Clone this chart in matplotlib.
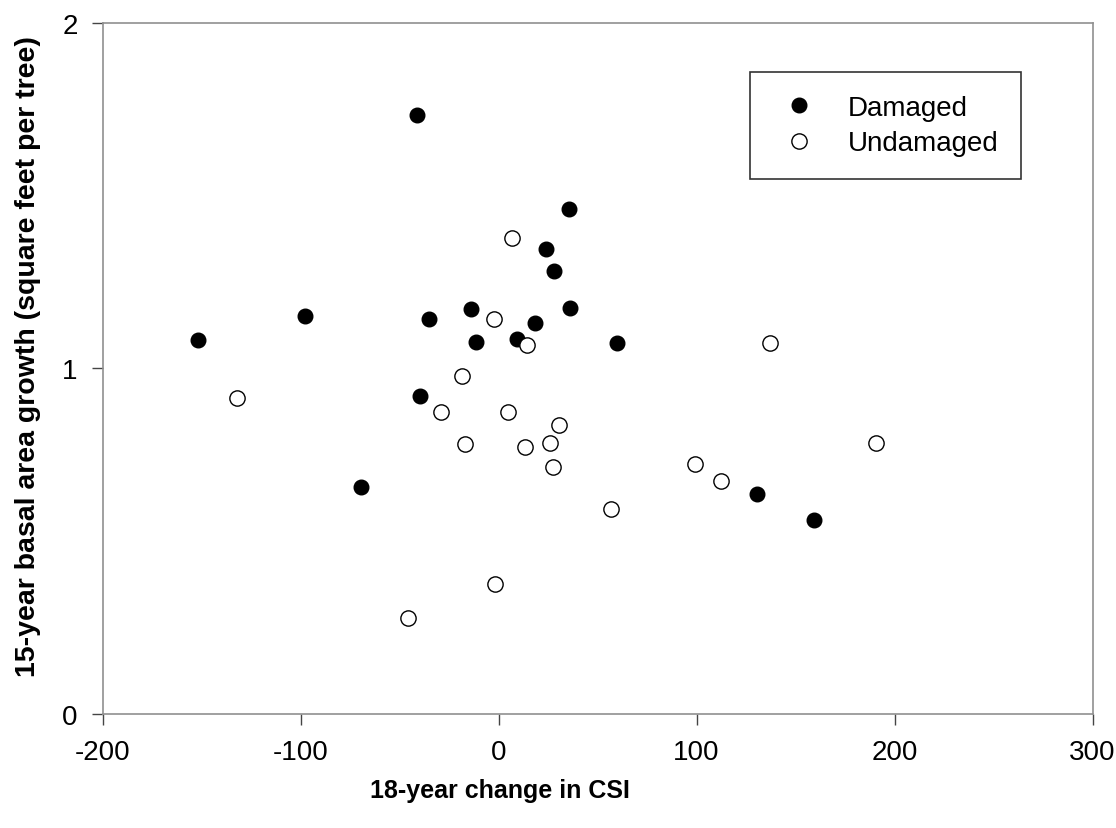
import matplotlib.pyplot as plt

plt.rcParams['font.family'] = ['Liberation Sans', 'DejaVu Sans']
plt.rcParams['axes.unicode_minus'] = False

# damaged trees
dam_x = [-152, -97.7, -69.3, -41.1, -39.5, -35.3, -13.9, -11.6, 9.2, 18.5,
         23.9, 28.1, 35.6, 36.2, 59.7, 130.4, 159.4]
dam_y = [1.083, 1.152, 0.657, 1.733, 0.919, 1.142, 1.172, 1.077, 1.084, 1.130,
         1.345, 1.282, 1.461, 1.175, 1.072, 0.637, 0.560]

# undamaged trees
und_x = [-131.9, -46.0, -29.1, -18.3, -16.8, -2.2, -1.6, 4.7, 6.7, 13.2,
         14.5, 25.9, 27.7, 30.6, 56.6, 99.1, 112.1, 137.1, 190.4]
und_y = [0.914, 0.278, 0.874, 0.979, 0.781, 1.142, 0.375, 0.874, 1.377, 0.771,
         1.068, 0.784, 0.714, 0.835, 0.594, 0.724, 0.674, 1.072, 0.784]

xticks = [-200, -100, 0, 100, 200, 300]
yticks = [0, 1, 2]

fig = plt.figure(figsize=(11.16, 8.29), dpi=100)
ax = fig.add_axes([0.092, 0.1375, 0.887, 0.834])

ax.plot(dam_x, dam_y, 'o', color='black', markersize=10.5, label='Damaged')
ax.plot(und_x, und_y, 'o', markerfacecolor='white', markeredgecolor='black',
        markeredgewidth=1.0, markersize=11, label='Undamaged')

ax.set_xlim(-200, 300)
ax.set_ylim(0, 2)
ax.set_xticks(xticks)
ax.set_yticks(yticks)
ax.tick_params(direction='out', length=8, width=1, color='#444444',
               labelsize=20, pad=10)
for s in ax.spines.values():
    s.set_color('#909090')
    s.set_linewidth(1.2)

ax.set_xlabel('18-year change in CSI', fontsize=18, fontweight='bold')
ax.xaxis.set_label_coords(0.401, -0.093)
ax.set_ylabel('15-year basal area growth (square feet per tree)', fontsize=20.5,
              fontweight='bold')
ax.yaxis.set_label_coords(-0.062, 0.518)

leg = ax.legend(loc='upper left', bbox_to_anchor=(0.672, 0.912),
                bbox_transform=fig.transFigure, fontsize=20, frameon=True,
                fancybox=False, edgecolor='black', handletextpad=0.82,
                borderpad=0.82, labelspacing=0.35, borderaxespad=0,
                handlelength=1.88, markerscale=1.0)
leg.get_frame().set_linewidth(1.2)

fig.savefig('out.png', dpi=100)
